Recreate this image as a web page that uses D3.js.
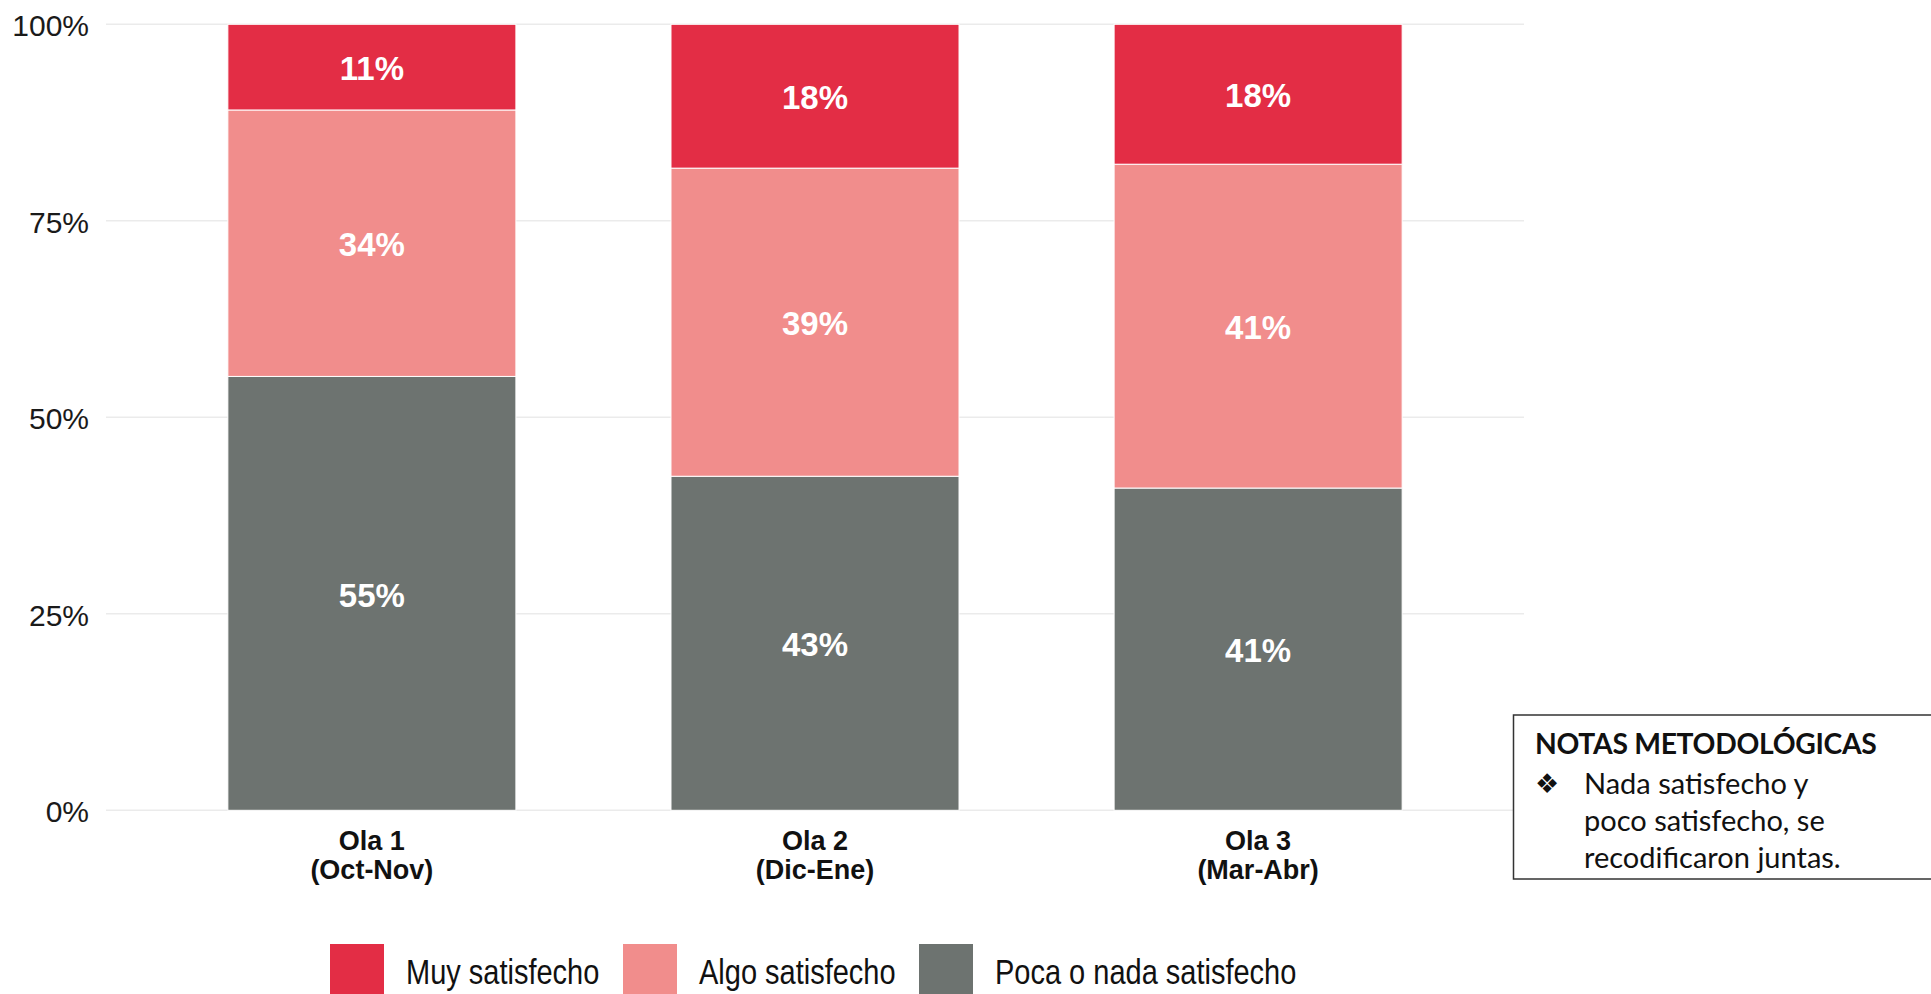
<!DOCTYPE html>
<html>
<head>
<meta charset="utf-8">
<script src="https://cdn.jsdelivr.net/npm/d3@7"></script>
<style>
  html, body { margin: 0; padding: 0; background: #ffffff; }
  svg { display: block; }
</style>
</head>
<body>
<svg id="chart" width="1931" height="994"></svg>
<script>
// ---- data ----
const waveNames   = ["Ola 1", "Ola 2", "Ola 3"];
const wavePeriods = ["(Oct-Nov)", "(Dic-Ene)", "(Mar-Abr)"];
const seriesNames = ["Poca o nada satisfecho", "Algo satisfecho", "Muy satisfecho"]; // bottom -> top
const pocaValues  = [55.2, 42.5, 41.0];
const algoValues  = [33.9, 39.2, 41.2];
const muyValues   = [10.9, 18.3, 17.8];
const yTicks      = [0, 25, 50, 75, 100];
const legendOrder = ["Muy satisfecho", "Algo satisfecho", "Poca o nada satisfecho"];
const noteTitle   = "NOTAS METODOLÓGICAS";
const noteLines   = ["Nada satisfecho y", "poco satisfecho, se", "recodificaron juntas."];

const colors = {
  "Muy satisfecho": "#e32d45",
  "Algo satisfecho": "#f18d8c",
  "Poca o nada satisfecho": "#6d7370"
};

// ---- build table ----
const rows = waveNames.map((w, i) => ({
  wave: w,
  "Poca o nada satisfecho": pocaValues[i],
  "Algo satisfecho": algoValues[i],
  "Muy satisfecho": muyValues[i]
}));
const stacked = d3.stack().keys(seriesNames)(rows);

const svg = d3.select("#chart");

const x = d3.scaleBand()
  .domain(waveNames)
  .range([106, 1524])
  .paddingInner(0.35)
  .paddingOuter(0.275);

const y = d3.scaleLinear().domain([0, 100]).range([810.3, 24.3]);

// gridlines
svg.append("g")
  .selectAll("line")
  .data(yTicks)
  .join("line")
  .attr("x1", x.range()[0])
  .attr("x2", x.range()[1])
  .attr("y1", d => y(d))
  .attr("y2", d => y(d))
  .attr("stroke", "#ebebeb")
  .attr("stroke-width", 1.5);

// y axis
const yAxis = d3.axisLeft(y).tickValues(yTicks).tickFormat(d => d + "%").tickSize(0).tickPadding(0);
const gy = svg.append("g").attr("transform", "translate(89,0)").call(yAxis);
gy.select(".domain").remove();
gy.selectAll("text")
  .attr("font-family", "Liberation Sans, Arial, sans-serif")
  .attr("font-size", 30)
  .attr("fill", "#1a1a1a")
  .attr("dy", "0.38em");

// bars
const layers = svg.append("g")
  .selectAll("g")
  .data(stacked)
  .join("g")
  .attr("fill", d => colors[d.key]);

layers.selectAll("rect")
  .data(d => d)
  .join("rect")
  .attr("x", d => x(d.data.wave))
  .attr("width", x.bandwidth())
  .attr("y", d => y(d[1]))
  .attr("height", d => y(d[0]) - y(d[1]))
  .attr("stroke", "#ffffff")
  .attr("stroke-width", 1);

// labels in bars
layers.selectAll("text")
  .data(d => d)
  .join("text")
  .attr("x", d => x(d.data.wave) + x.bandwidth() / 2)
  .attr("y", d => y((d[0] + d[1]) / 2))
  .attr("dy", "0.4em")
  .attr("text-anchor", "middle")
  .attr("font-family", "Liberation Sans, Arial, sans-serif")
  .attr("font-weight", "bold")
  .attr("font-size", 33)
  .attr("fill", "#ffffff")
  .text(d => Math.round(d[1] - d[0]) + "%");

// x axis labels
const xl = svg.append("g")
  .selectAll("text")
  .data(waveNames)
  .join("text")
  .attr("x", d => x(d) + x.bandwidth() / 2)
  .attr("y", 850)
  .attr("text-anchor", "middle")
  .attr("font-family", "Liberation Sans, Arial, sans-serif")
  .attr("font-weight", "bold")
  .attr("font-size", 27)
  .attr("fill", "#111111");
xl.append("tspan").attr("x", d => x(d) + x.bandwidth() / 2).text(d => d);
xl.append("tspan").attr("x", d => x(d) + x.bandwidth() / 2).attr("dy", 29)
  .text((d, i) => wavePeriods[i]);

// legend
const legendX = [330, 623, 919];
const lg = svg.append("g")
  .selectAll("g")
  .data(legendOrder)
  .join("g")
  .attr("transform", (d, i) => `translate(${legendX[i]},944)`);
lg.append("rect")
  .attr("width", 54)
  .attr("height", 60)
  .attr("fill", d => colors[d]);
lg.append("text")
  .attr("transform", "translate(76,40) scale(1,1.2)")
  .attr("font-family", "Liberation Sans, Arial, sans-serif")
  .attr("font-size", 29)
  .attr("fill", "#111111")
  .text(d => d);

// note box
const note = svg.append("g");
note.append("rect")
  .attr("x", 1513.5)
  .attr("y", 715)
  .attr("width", 430)
  .attr("height", 164)
  .attr("fill", "#ffffff")
  .attr("stroke", "#333333")
  .attr("stroke-width", 1.5);
note.append("text")
  .attr("x", 1535)
  .attr("y", 754)
  .attr("font-family", "Lato, Open Sans, sans-serif")
  .attr("font-weight", "bold")
  .attr("font-size", 28.3)
  .attr("letter-spacing", -0.3)
  .attr("fill", "#111111")
  .text(noteTitle);
note.append("text")
  .attr("x", 1535)
  .attr("y", 793)
  .attr("font-family", "DejaVu Sans, sans-serif")
  .attr("font-size", 27)
  .attr("fill", "#111111")
  .text("❖");
note.selectAll("text.line")
  .data(noteLines)
  .join("text")
  .attr("class", "line")
  .attr("x", 1584)
  .attr("y", (d, i) => 794 + i * 37)
  .attr("font-family", "Lato, Open Sans, sans-serif")
  .attr("font-size", 29)
  .attr("fill", "#111111")
  .text(d => d);
</script>
</body>
</html>
